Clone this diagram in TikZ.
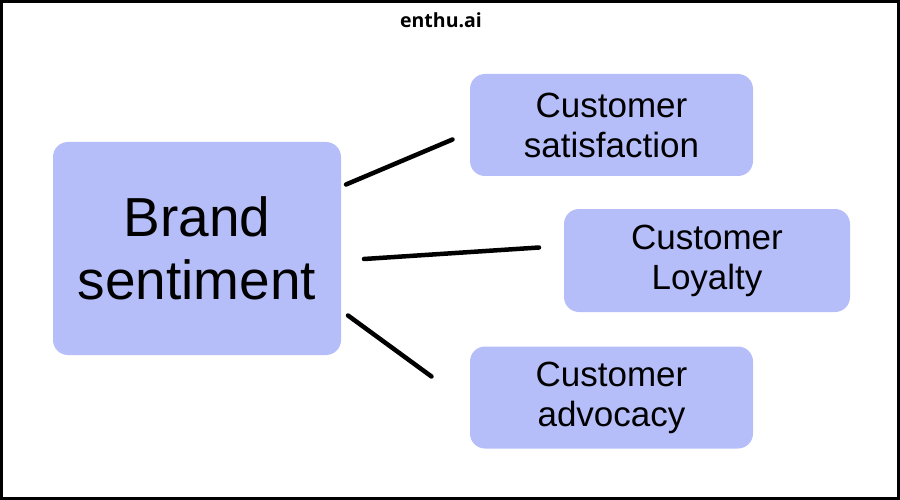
\documentclass[tikz,border=0pt]{standalone}
\usepackage{fontspec}
\setmainfont{Liberation Sans}
\newfontfamily\titlefont{Open Sans}
\definecolor{boxblue}{HTML}{B6BEFA}
\begin{document}
\begin{tikzpicture}[x=1pt,y=-1pt,
  bubble/.style={fill=boxblue, draw=none, rounded corners=15pt, inner sep=0pt, align=center},
  small/.style={font=\fontsize{35}{40}\selectfont},
  link/.style={line width=4.5pt, line cap=round, black}]
\useasboundingbox (0,0) rectangle (900,500);
\draw[line width=3pt] (1.5,1.5) rectangle (898.5,498.5);
\node[font=\titlefont\bfseries\fontsize{19.5}{22}\selectfont] (title) at (441,20) {enthu.ai};
\node[bubble, minimum width=288pt, minimum height=213pt,
  font=\fontsize{55}{63}\selectfont] (brand) at (197,248.5) {Brand\\sentiment};
\node[bubble, small, minimum width=283pt, minimum height=102pt] (sat) at (611.5,125) {Customer\\satisfaction};
\node[bubble, small, minimum width=286pt, minimum height=103pt] (loy) at (707,260.5) {Customer\\Loyalty};
\node[bubble, small, minimum width=283pt, minimum height=102pt] (adv) at (611.5,397.5) {Customer\\advocacy};
\coordinate (b1) at (346,184.5);
\coordinate (s1) at (452.5,139.5);
\coordinate (b2) at (364,259);
\coordinate (l1) at (539,247.5);
\coordinate (b3) at (348,315.5);
\coordinate (a1) at (431.5,376.5);
\draw[link] (b1) -- (s1);
\draw[link] (b2) -- (l1);
\draw[link] (b3) -- (a1);
\end{tikzpicture}
\end{document}
